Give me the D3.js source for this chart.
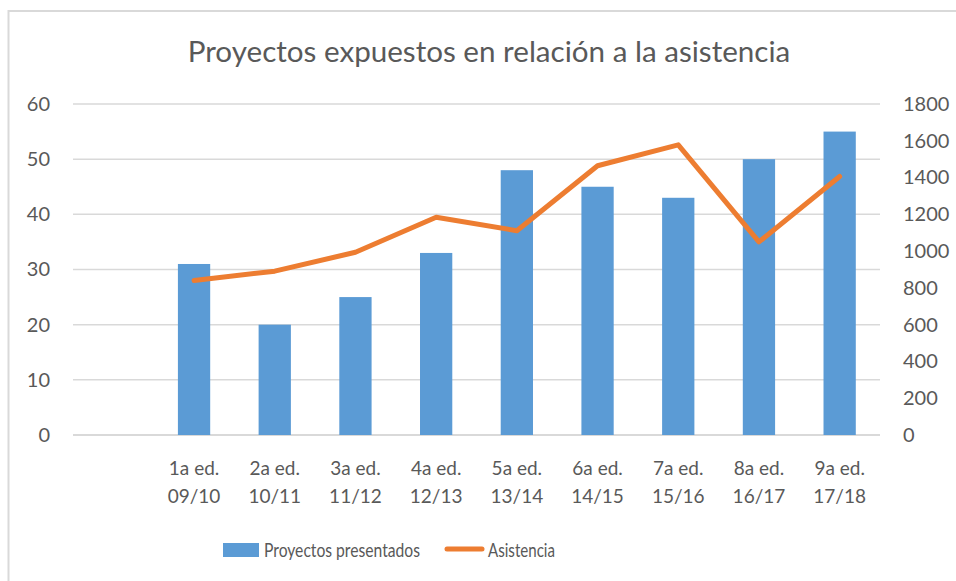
<!DOCTYPE html>
<html>
<head>
<meta charset="utf-8">
<script src="https://cdn.jsdelivr.net/npm/d3@7"></script>
<style>
  body { margin: 0; background: #fff; }
  text { font-family: Lato, "Liberation Sans", sans-serif; }
</style>
</head>
<body>
<div id="chart"></div>
<script>
// data
var categories = ["", "1a ed.|09/10", "2a ed.|10/11", "3a ed.|11/12", "4a ed.|12/13",
  "5a ed.|13/14", "6a ed.|14/15", "7a ed.|15/16", "8a ed.|16/17", "9a ed.|17/18"];
var proyectos = [31, 20, 25, 33, 48, 45, 43, 50, 55];
var asistencia = [840, 891, 994, 1184, 1111, 1464, 1578, 1050, 1406];
var leftTicks = [0, 10, 20, 30, 40, 50, 60];
var rightTicks = [0, 200, 400, 600, 800, 1000, 1200, 1400, 1600, 1800];

const W = 956, H = 581;
const margin = { top: 104, right: 76, bottom: 146, left: 73 },
  width = W - margin.left - margin.right,
  height = H - margin.top - margin.bottom;

const root = d3.select("#chart").append("svg")
  .attr("width", W)
  .attr("height", H);

// outer chart frame (only top/left visible in the picture)
root.append("rect")
  .attr("x", 8.5).attr("y", 11)
  .attr("width", W + 20).attr("height", H + 20)
  .attr("fill", "none")
  .attr("stroke", "#d9d9d9")
  .attr("stroke-width", 2);

root.append("text")
  .attr("x", 489)
  .attr("y", 62)
  .attr("text-anchor", "middle")
  .attr("font-size", "29.6px")
  .attr("fill", "#595959")
  .text("Proyectos expuestos en relación a la asistencia");

const svg = root.append("g")
  .attr("transform", `translate(${margin.left}, ${margin.top})`);

const x = d3.scaleBand()
  .domain(categories)
  .range([0, width])
  .paddingInner(0.6)
  .paddingOuter(0.3);

const yL = d3.scaleLinear().domain([0, 60]).range([height, 0]);
const yR = d3.scaleLinear().domain([0, 1800]).range([height, 0]);

// gridlines
svg.append("g")
  .selectAll("line")
  .data(leftTicks)
  .join("line")
  .attr("x1", 0)
  .attr("x2", width)
  .attr("y1", d => yL(d))
  .attr("y2", d => yL(d))
  .attr("stroke", "#d9d9d9")
  .attr("stroke-width", function (d) { return d === 0 ? 2 : 1.5; });

// left axis
const axL = svg.append("g")
  .call(d3.axisLeft(yL).tickValues(leftTicks).tickSize(0).tickPadding(23));
axL.select(".domain").remove();
axL.selectAll("text")
  .attr("font-size", "20px")
  .attr("fill", "#595959")
  .attr("font-family", "Lato, 'Liberation Sans', sans-serif");

// right axis
const axR = svg.append("g")
  .attr("transform", `translate(${width}, 0)`)
  .call(d3.axisRight(yR).tickValues(rightTicks).tickFormat(d3.format("d")).tickSize(0).tickPadding(23));
axR.select(".domain").remove();
axR.selectAll("text")
  .attr("font-size", "20px")
  .attr("fill", "#595959")
  .attr("font-family", "Lato, 'Liberation Sans', sans-serif");

// bars
svg.append("g")
  .selectAll("rect")
  .data(proyectos)
  .join("rect")
  .attr("x", (d, i) => x(categories[i + 1]))
  .attr("y", d => yL(d))
  .attr("width", x.bandwidth())
  .attr("height", d => height - yL(d))
  .attr("fill", "#5b9bd5");

// line
const line = d3.line()
  .x((d, i) => x(categories[i + 1]) + x.bandwidth() / 2)
  .y(d => yR(d));

svg.append("path")
  .datum(asistencia)
  .attr("d", line)
  .attr("fill", "none")
  .attr("stroke", "#ed7d31")
  .attr("stroke-width", 5)
  .attr("stroke-linejoin", "round")
  .attr("stroke-linecap", "round");

// category labels (two lines)
const xl = svg.append("g")
  .selectAll("text")
  .data(categories.slice(1))
  .join("text")
  .attr("text-anchor", "middle")
  .attr("font-size", "19px")
  .attr("fill", "#595959")
  .attr("transform", d => `translate(${x(d) + x.bandwidth() / 2}, ${height + 40})`);
xl.append("tspan").attr("x", 0).attr("y", 0).text(d => d.split("|")[0]);
xl.append("tspan").attr("x", 0).attr("y", 28).text(d => d.split("|")[1]);

// legend
const lg = root.append("g");
lg.append("rect")
  .attr("x", 223).attr("y", 543)
  .attr("width", 36).attr("height", 14)
  .attr("fill", "#5b9bd5");
lg.append("text")
  .attr("x", 264).attr("y", 557)
  .attr("font-size", "20px")
  .attr("fill", "#595959")
  .attr("textLength", 156)
  .attr("lengthAdjust", "spacingAndGlyphs")
  .text("Proyectos presentados");
lg.append("line")
  .attr("x1", 447).attr("x2", 482)
  .attr("y1", 549).attr("y2", 549)
  .attr("stroke", "#ed7d31")
  .attr("stroke-width", 5)
  .attr("stroke-linecap", "round");
lg.append("text")
  .attr("x", 488).attr("y", 557)
  .attr("font-size", "20px")
  .attr("fill", "#595959")
  .attr("textLength", 67)
  .attr("lengthAdjust", "spacingAndGlyphs")
  .text("Asistencia");
</script>
</body>
</html>
